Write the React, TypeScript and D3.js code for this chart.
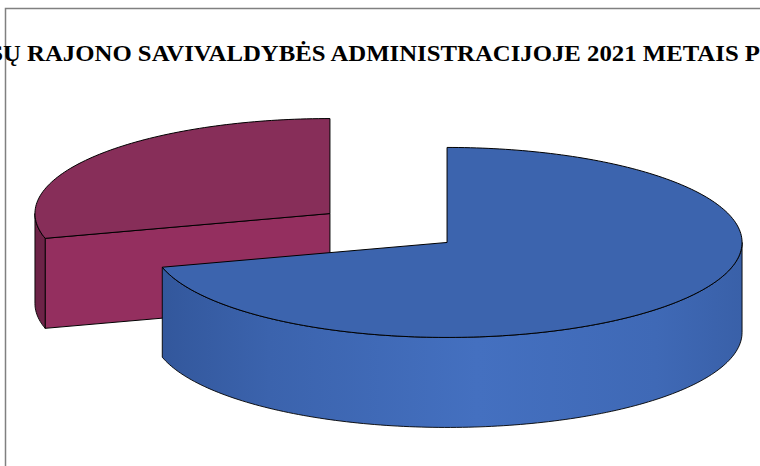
import React from "react";
import * as d3 from "d3";

// Data
const categories = ["Kategorija A", "Kategorija B"];
const values = [70.8, 29.2];
const titleText = "Ų RAJONO SAVIVALDYBĖS ADMINISTRACIJOJE 2021 METAIS P";
const titleLead = "S";

const W = 760;
const H = 466;

type Pt = [number, number];

export default function App() {
  const cx = 388.5;
  const cy = 228;
  const rx = 295;
  const ry = 95;
  const depth = 90;
  const explode = 0.25;

  const pie = d3.pie<number>().sort(null).value((d) => d);
  const arcs = pie(values);

  const line = d3.line<Pt>().x((d) => d[0]).y((d) => d[1]);

  const rim = (t: number, ox: number, oy: number, dz = 0): Pt => [
    cx + ox + rx * Math.sin(t),
    cy + oy - ry * Math.cos(t) + dz,
  ];
  const arcPts = (a0: number, a1: number, ox: number, oy: number, dz = 0): Pt[] => {
    const n = Math.max(2, Math.ceil(Math.abs(a1 - a0) / 0.02));
    const s = d3.scaleLinear().domain([0, n]).range([a0, a1]);
    return d3.range(n + 1).map((i) => rim(s(i), ox, oy, dz));
  };

  const styles = [
    { top: "#3c64ae", side: "url(#blueSide)", cut: "#3a60a6", stroke: "#000" },
    { top: "#872e59", side: "#6d2347", cut: "#942f5f", stroke: "#000" },
  ];

  const drawOrder = [1, 0];

  const pieces = drawOrder.map((idx) => {
    const a = arcs[idx];
    const mid = (a.startAngle + a.endAngle) / 2;
    const ox = explode * rx * Math.sin(mid);
    const oy = -explode * ry * Math.cos(mid);
    const C: Pt = [cx + ox, cy + oy];
    const Cb: Pt = [cx + ox, cy + oy + depth];
    const st = styles[idx];
    const els: React.ReactNode[] = [];

    if (Math.sin(a.startAngle) < -1e-6) {
      const p = rim(a.startAngle, ox, oy);
      const pb = rim(a.startAngle, ox, oy, depth);
      els.push(
        <path key="cs" d={line([C, p, pb, Cb])! + "Z"} fill={st.cut} stroke={st.stroke} strokeWidth={1} strokeLinejoin="round" />
      );
    }
    if (Math.sin(a.endAngle) > 1e-6) {
      const p = rim(a.endAngle, ox, oy);
      const pb = rim(a.endAngle, ox, oy, depth);
      els.push(
        <path key="ce" d={line([C, p, pb, Cb])! + "Z"} fill={st.cut} stroke={st.stroke} strokeWidth={1} strokeLinejoin="round" />
      );
    }
    const s0 = Math.max(a.startAngle, Math.PI / 2);
    const s1 = Math.min(a.endAngle, (3 * Math.PI) / 2);
    if (s1 > s0) {
      const topPts = arcPts(s0, s1, ox, oy);
      const botPts = arcPts(s1, s0, ox, oy, depth);
      els.push(
        <path key="side" d={line([...topPts, ...botPts])! + "Z"} fill={st.side} stroke={st.stroke} strokeWidth={0.9} strokeLinejoin="round" />
      );
    }
    const tp = [C, ...arcPts(a.startAngle, a.endAngle, ox, oy)];
    els.push(
      <path key="top" d={line(tp)! + "Z"} fill={st.top} stroke={st.stroke} strokeWidth={1} strokeLinejoin="round" />
    );
    return <g key={categories[idx]}>{els}</g>;
  });

  const textStyle: React.CSSProperties = {
    fontFamily: '"Liberation Serif", "DejaVu Serif", serif',
    fontWeight: 700,
    fontSize: "24px",
  };

  return (
    <svg
      width={W}
      height={H}
      viewBox={`0 0 ${W} ${H}`}
      style={{ position: "absolute", left: 0, top: 0, display: "block", background: "#fff" }}
    >
      <defs>
        <linearGradient id="blueSide" gradientUnits="userSpaceOnUse" x1={150} y1={0} x2={745} y2={0}>
          <stop offset="0" stopColor="#32569a" />
          <stop offset="0.2" stopColor="#3b63ad" />
          <stop offset="0.55" stopColor="#4470c0" />
          <stop offset="0.85" stopColor="#3f69b6" />
          <stop offset="1" stopColor="#3960a8" />
        </linearGradient>
      </defs>
      <rect x={5.5} y={8.5} width={W + 20} height={H + 20} fill="#fff" stroke="#808080" strokeWidth={1.5} />
      {pieces}
      <text x={3} y={61} style={textStyle} textLength={757} lengthAdjust="spacingAndGlyphs" fill="#000">
        {titleText}
      </text>
      <text x={3} y={61} textAnchor="end" style={textStyle} fill="#000">
        {titleLead}
      </text>
    </svg>
  );
}
